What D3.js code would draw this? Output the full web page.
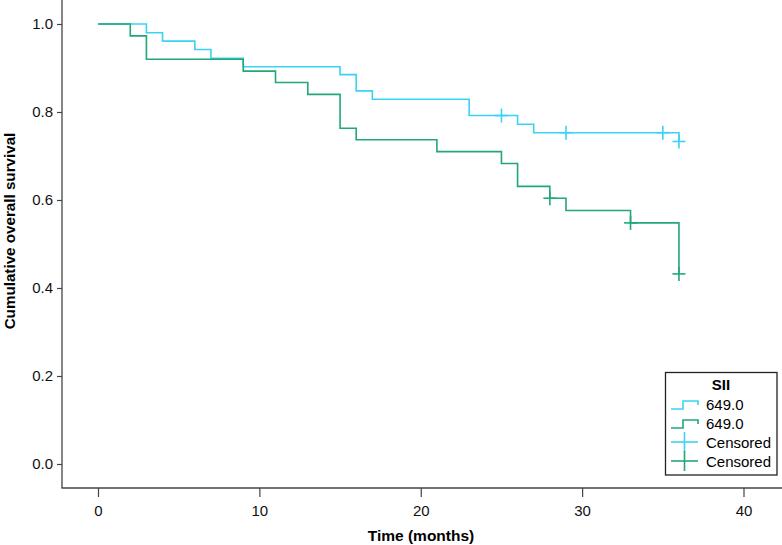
<!DOCTYPE html>
<html><head><meta charset="utf-8">
<script src="https://cdn.jsdelivr.net/npm/d3@7"></script>
<style>body{margin:0;background:#fff}svg{display:block}text{font-family:"Liberation Sans",Arial,sans-serif}</style>
</head><body>
<svg id="c" width="782" height="545"></svg>
<script>
// ---- data ----
const xTicks = [0, 10, 20, 30, 40];
const yTicks = [0.0, 0.2, 0.4, 0.6, 0.8, 1.0];
const seriesNames = ["649.0", "649.0"];
const lowTimes = [0, 3, 4, 6, 7, 9, 15, 16, 17, 23, 26, 27, 36];
const lowSurv  = [1.0, 0.980, 0.961, 0.942, 0.922, 0.903, 0.885, 0.848, 0.829, 0.792, 0.772, 0.753, 0.733];
const lowCensTimes = [25, 29, 35, 36];
const lowCensSurv  = [0.792, 0.753, 0.753, 0.733];
const highTimes = [0, 2, 3, 9, 11, 13, 15, 16, 21, 25, 26, 28, 29, 33, 36];
const highSurv  = [1.0, 0.973, 0.920, 0.893, 0.867, 0.840, 0.763, 0.737, 0.710, 0.683, 0.631, 0.604, 0.576, 0.548, 0.432];
const highCensTimes = [28, 33, 36];
const highCensSurv  = [0.604, 0.548, 0.432];

const colors = ["#3ad3f3", "#22a779"];

const svg = d3.select("#c");
const x = d3.scaleLinear().domain([0, 40]).range([98, 743.5]);
const y = d3.scaleLinear().domain([0, 1]).range([464, 24]);
const axisColor = "#444";

// axes
const xAxis = svg.append("g").attr("transform", "translate(0,488)")
  .call(d3.axisBottom(x).tickValues(xTicks).tickFormat(d3.format("d")).tickSize(9).tickSizeOuter(0));
xAxis.select(".domain").remove();
svg.append("line").attr("x1", 61.5).attr("x2", 782).attr("y1", 488).attr("y2", 488)
  .attr("stroke", axisColor).attr("stroke-width", 1.3);
xAxis.selectAll(".tick line").attr("stroke", axisColor).attr("stroke-width", 1.2);
xAxis.selectAll(".tick text").attr("font-size", 15).attr("fill", "#111").attr("dy", "1.05em");

const yAxis = svg.append("g").attr("transform", "translate(62,0)")
  .call(d3.axisLeft(y).tickValues(yTicks).tickFormat(d3.format(".1f")).tickSize(5).tickPadding(4).tickSizeOuter(0));
yAxis.select(".domain").remove();
svg.append("line").attr("x1", 62).attr("x2", 62).attr("y1", 0).attr("y2", 488)
  .attr("stroke", axisColor).attr("stroke-width", 1.3);
yAxis.selectAll(".tick line").attr("stroke", axisColor).attr("stroke-width", 1.2);
yAxis.selectAll(".tick text").attr("font-size", 15).attr("fill", "#111");

// axis titles
svg.append("text").attr("x", 421).attr("y", 541).attr("text-anchor", "middle")
  .attr("font-size", 15.5).attr("font-weight", "bold").text("Time (months)");
svg.append("text").attr("transform", "translate(15,231) rotate(-90)").attr("text-anchor", "middle")
  .attr("font-size", 15.2).attr("font-weight", "bold").text("Cumulative overall survival");

// curves
const line = d3.line().x(d => x(d[0])).y(d => y(d[1])).curve(d3.curveStepAfter);
function drawCurve(times, surv, censT, censS, col) {
  const pts = times.map((t, i) => [t, surv[i]]);
  svg.append("path").datum(pts).attr("d", line).attr("fill", "none")
    .attr("stroke", col).attr("stroke-width", 1.6);
  const g = svg.append("g");
  censT.forEach((t, i) => {
    const cx = x(t), cy = y(censS[i]);
    g.append("line").attr("x1", cx - 6.5).attr("x2", cx + 6.5).attr("y1", cy).attr("y2", cy)
      .attr("stroke", col).attr("stroke-width", 1.6);
    g.append("line").attr("x1", cx).attr("x2", cx).attr("y1", cy - 7).attr("y2", cy + 7)
      .attr("stroke", col).attr("stroke-width", 1.6);
  });
}
drawCurve(lowTimes, lowSurv, lowCensTimes, lowCensSurv, colors[0]);
drawCurve(highTimes, highSurv, highCensTimes, highCensSurv, colors[1]);

// legend
const lg = svg.append("g");
lg.append("rect").attr("x", 665.5).attr("y", 372.5).attr("width", 111.5).attr("height", 102.5)
  .attr("fill", "#fff").attr("stroke", "#222").attr("stroke-width", 1.3);
lg.append("text").attr("x", 721).attr("y", 390).attr("text-anchor", "middle")
  .attr("font-size", 15).attr("font-weight", "bold").text("SII");
const rowY = [404, 423, 442, 461];
seriesNames.forEach((n, i) => {
  const cy = rowY[i];
  lg.append("path").attr("d", `M671,${cy + 5}H683V${cy - 3}H698V${cy + 1}`)
    .attr("fill", "none").attr("stroke", colors[i]).attr("stroke-width", 1.6);
  lg.append("text").attr("x", 706).attr("y", cy + 5.5).attr("font-size", 15).text(n);
});
[0, 1].forEach(i => {
  const cy = rowY[i + 2];
  lg.append("line").attr("x1", 671).attr("x2", 698).attr("y1", cy).attr("y2", cy)
    .attr("stroke", colors[i]).attr("stroke-width", 1.6);
  lg.append("line").attr("x1", 684.5).attr("x2", 684.5).attr("y1", cy - 10).attr("y2", cy + 10)
    .attr("stroke", colors[i]).attr("stroke-width", 1.6);
  lg.append("text").attr("x", 706).attr("y", cy + 5.5).attr("font-size", 15).text("Censored");
});
</script>
</body></html>
